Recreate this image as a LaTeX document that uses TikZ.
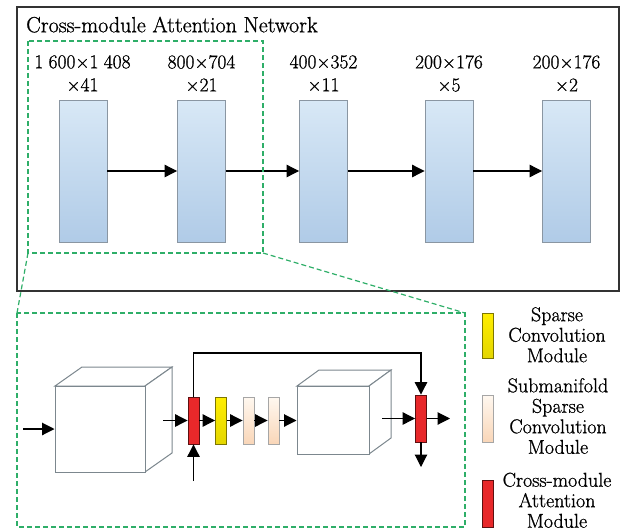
\documentclass[tikz,border=0pt]{standalone}
\usepackage{fontspec}
\setmainfont{Latin Modern Roman}[FakeBold=0.9]
\usetikzlibrary{arrows.meta}
\definecolor{frame}{HTML}{333333}
\definecolor{zoomgreen}{HTML}{2EAE68}
\definecolor{bluetop}{HTML}{D8E8F6}
\definecolor{bluebot}{HTML}{B0CBE7}
\definecolor{barline}{HTML}{8A96A2}
\definecolor{attred}{HTML}{E8282A}
\definecolor{yeltop}{HTML}{FFEE00}
\definecolor{yelbot}{HTML}{E4D600}
\definecolor{peachtop}{HTML}{FFF8F0}
\definecolor{peachbot}{HTML}{F9D6B8}
\definecolor{cubeline}{HTML}{7C878E}
\tikzset{
  lbl/.style={font=\fontsize{19.5}{23}\selectfont, align=center, anchor=north, inner sep=0pt},
  legtext/.style={font=\fontsize{20}{20.5}\selectfont, align=center, anchor=north, inner sep=0pt},
  bluebar/.style={draw=barline, line width=0.9pt, top color=bluetop, bottom color=bluebot,
    minimum width=48pt, minimum height=142pt, inner sep=0pt},
  smallbar/.style={line width=0.9pt, minimum width=11pt, minimum height=47pt, inner sep=0pt},
  redbar/.style={smallbar, draw=black!60!attred, fill=attred},
  yelbar/.style={smallbar, draw=black!45!yelbot, top color=yeltop, bottom color=yelbot},
  peachbar/.style={smallbar, draw=black!35, top color=peachtop, bottom color=peachbot},
  arr/.style={line width=1.1pt, -{Triangle[length=12.5pt,width=12.5pt]}},
  cubeface/.style={draw=cubeline, line width=1pt, fill=white},
  zoombox/.style={draw=zoomgreen, line width=1.2pt, dash pattern=on 5pt off 3pt},
}
\newcommand{\gsp}{\hspace{0.27em}}
\begin{document}
\begin{tikzpicture}[x=1pt, y=-1pt]
\useasboundingbox (0,0) rectangle (627,531);

% outer frame of the network
\draw[frame, line width=1.2pt] (17,7) rectangle (619,291);
\node[anchor=north west, inner sep=0pt, font=\fontsize{22}{26}\selectfont] (title) at (26,16.5) {Cross-module Attention Network};

% feature-map stages
\node[bluebar] (b1) at (83,171) {};
\node[bluebar] (b2) at (201.5,171) {};
\node[bluebar] (b3) at (323.5,171) {};
\node[bluebar] (b4) at (449,171) {};
\node[bluebar] (b5) at (566.5,171) {};

\node[lbl] (l1) at (82.5,55) {1\gsp600×1\gsp408\\×41};
\node[lbl] (l2) at (201.5,55) {800×704\\×21};
\node[lbl] (l3) at (323.5,55) {400×352\\×11};
\node[lbl] (l4) at (449,55) {200×176\\×5};
\node[lbl] (l5) at (566.5,55) {200×176\\×2};

\draw[arr] (b1) -- (b2);
\draw[arr] (b2) -- (b3);
\draw[arr] (b3) -- (b4);
\draw[arr] (b4) -- (b5);

% zoomed region and its detail panel
\coordinate (ztl) at (28,41);
\coordinate (zbr) at (263,253);
\coordinate (zbl) at (28,253);
\coordinate (dtl) at (17,313);
\coordinate (dtr) at (465,313);
\draw[zoombox] (ztl) rectangle (zbr);
\draw[zoombox] (dtl) rectangle (465,527);
\draw[zoombox] (zbl) -- (dtl);
\draw[zoombox] (zbr) -- (dtr);

% first cube
\draw[cubeface] (55,386) -- (82,367) -- (172,367) -- (145,386) -- cycle;
\draw[cubeface] (145,386) -- (172,367) -- (172,453) -- (145,472) -- cycle;
\node[cubeface, minimum width=90pt, minimum height=86pt, inner sep=0pt] (cube1) at (100,429) {};

% second cube
\draw[cubeface] (297,386) -- (319,370) -- (391,370) -- (369,386) -- cycle;
\draw[cubeface] (369,386) -- (391,370) -- (391,438) -- (369,454) -- cycle;
\node[cubeface, minimum width=72pt, minimum height=68pt, inner sep=0pt] (cube2) at (333,420) {};

% module chain
\node[redbar] (r1) at (193.5,420.5) {};
\node[yelbar] (y1) at (221,420.5) {};
\node[peachbar] (p1) at (248.5,420.5) {};
\node[peachbar] (p2) at (273.5,420.5) {};
\node[redbar] (r2) at (421,418.5) {};

\coordinate (in1) at (23,429);
\coordinate (in2) at (163,420.5);
\coordinate (in3) at (193.5,481);
\coordinate (in4) at (382,418.5);
\coordinate (out1) at (450,418.5);
\coordinate (out2) at (421,467);
\coordinate (sk1) at (193.5,353);
\coordinate (sk2) at (421,353);

\draw[arr] (in1) -- (cube1.west);
\draw[arr] (in2) -- (r1.west);
\draw[arr] (in3) -- (r1.south);
\draw[arr] (r1) -- (y1);
\draw[arr] (y1) -- (p1);
\draw[arr] (p1) -- (p2);
\draw[arr] (p2.east) -- (cube2.west |- p2.east);
\draw[arr] (r1.north) -- (sk1) -- (sk2) -- (r2.north);
\draw[arr] (in4) -- (r2.west);
\draw[arr] (r2.east) -- (out1);
\draw[arr] (r2.south) -- (out2);

% legend
\node[yelbar, minimum height=45pt] (ky) at (487.5,335.5) {};
\node[peachbar] (kp) at (487.5,418.5) {};
\node[redbar] (kr) at (487.5,503.5) {};
\node[legtext] (ty) at (557,307) {Sparse\\Convolution\\Module};
\node[legtext] (tp) at (558,378) {Submanifold\\Sparse\\Convolution\\Module};
\node[legtext] (tr) at (557,472.5) {Cross-module\\Attention\\Module};
\end{tikzpicture}
\end{document}
